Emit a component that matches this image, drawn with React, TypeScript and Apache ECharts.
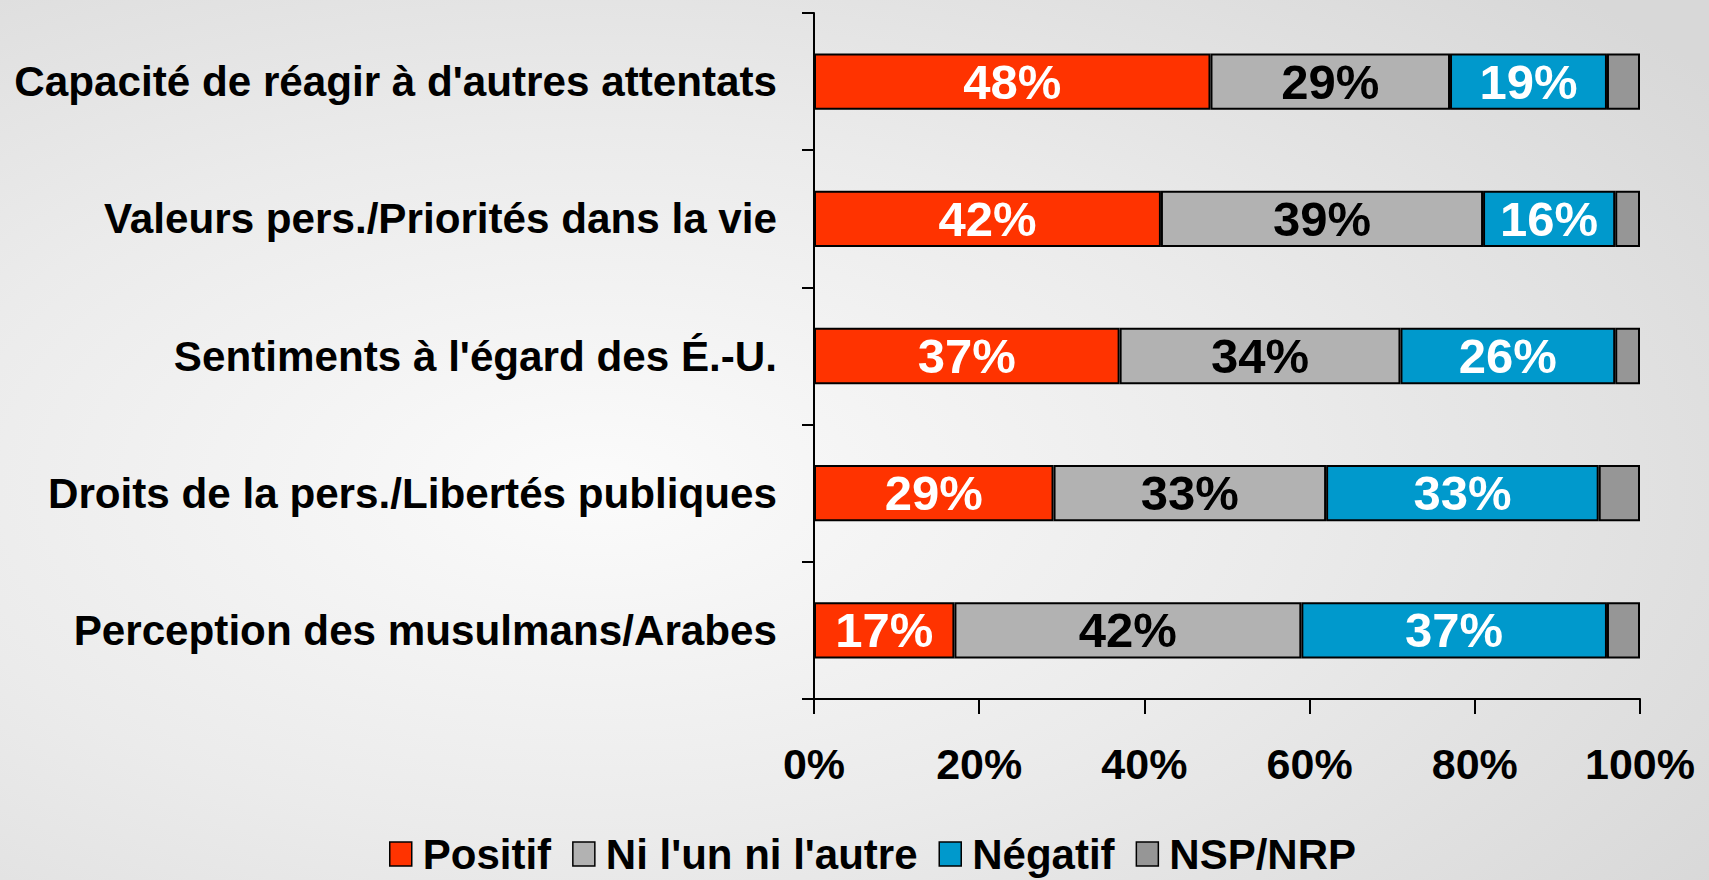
import React, { useEffect, useRef } from "react";
import * as echarts from "echarts";

const categories = [
  "Capacité de réagir à d'autres attentats",
  "Valeurs pers./Priorités dans la vie",
  "Sentiments à l'égard des É.-U.",
  "Droits de la pers./Libertés publiques",
  "Perception des musulmans/Arabes",
];
const positif = [48, 42, 37, 29, 17];
const niLunNiLautre = [29, 39, 34, 33, 42];
const negatif = [19, 16, 26, 33, 37];
const nspNrp = [4, 3, 3, 5, 4];
const seriesNames = ["Positif", "Ni l'un ni l'autre", "Négatif", "NSP/NRP"];
const xTicks = [0, 20, 40, 60, 80, 100];

const FONT = "'Liberation Sans', Arial, Helvetica, sans-serif";

export default function App() {
  const ref = useRef<HTMLDivElement>(null);
  useEffect(() => {
    if (!ref.current) return;
    const chart = echarts.init(ref.current, null, { renderer: "svg" });
    const mk = (name: string, data: number[], color: string, labelColor: string | null) => ({
      name,
      type: "bar",
      stack: "total",
      data,
      barWidth: "41%",
      itemStyle: { color, borderColor: "#000", borderWidth: 2 },
      label: labelColor
        ? {
            show: true,
            position: "inside",
            formatter: (p: any) => `${p.value}%`,
            color: labelColor,
            fontFamily: FONT,
            fontWeight: "bold",
            fontSize: 49,
          }
        : { show: false },
    });
    chart.setOption({
      animation: false,
      backgroundColor: {
        type: "radial",
        x: 0.35,
        y: 0.55,
        r: 0.8,
        colorStops: [
          { offset: 0, color: "#fbfbfb" },
          { offset: 0.5, color: "#ebebeb" },
          { offset: 1, color: "#d8d8d8" },
        ],
      },
      textStyle: { fontFamily: FONT },
      grid: { left: 814, right: 69, top: 13, bottom: 181, containLabel: false },
      legend: {
        bottom: 0,
        left: 384,
        itemWidth: 22,
        itemHeight: 24,
        itemGap: 21,
        icon: "rect",
        textStyle: {
          fontFamily: FONT,
          fontWeight: "bold",
          fontSize: 42,
          color: "#000",
          padding: [0, 0, 0, 6],
        },
        data: seriesNames.map((n) => ({ name: n, itemStyle: { borderColor: "#000", borderWidth: 1.5 } })),
      },
      xAxis: {
        type: "value",
        min: xTicks[0],
        max: xTicks[xTicks.length - 1],
        interval: 20,
        splitLine: { show: false },
        axisLine: { show: true, lineStyle: { color: "#000", width: 2 } },
        axisTick: { show: true, length: 15, lineStyle: { color: "#000", width: 2 } },
        axisLabel: {
          formatter: (v: number) => `${v}%`,
          color: "#000",
          fontFamily: FONT,
          fontWeight: "bold",
          fontSize: 43,
          margin: 43,
        },
      },
      yAxis: {
        type: "category",
        data: categories,
        inverse: true,
        axisLine: { show: true, lineStyle: { color: "#000", width: 2 } },
        axisTick: { show: true, length: 12, lineStyle: { color: "#000", width: 2 } },
        axisLabel: {
          color: "#000",
          fontFamily: FONT,
          fontWeight: "bold",
          fontSize: 42.2,
          margin: 37,
        },
      },
      series: [
        mk(seriesNames[0], positif, "#FF3300", "#fff"),
        mk(seriesNames[1], niLunNiLautre, "#B2B2B2", "#000"),
        mk(seriesNames[2], negatif, "#0099CC", "#fff"),
        mk(seriesNames[3], nspNrp, "#969696", null),
      ],
    });
    return () => chart.dispose();
  }, []);
  return (
    <div
      ref={ref}
      style={{ position: "absolute", left: 0, top: 0, width: 1709, height: 880 }}
    />
  );
}
